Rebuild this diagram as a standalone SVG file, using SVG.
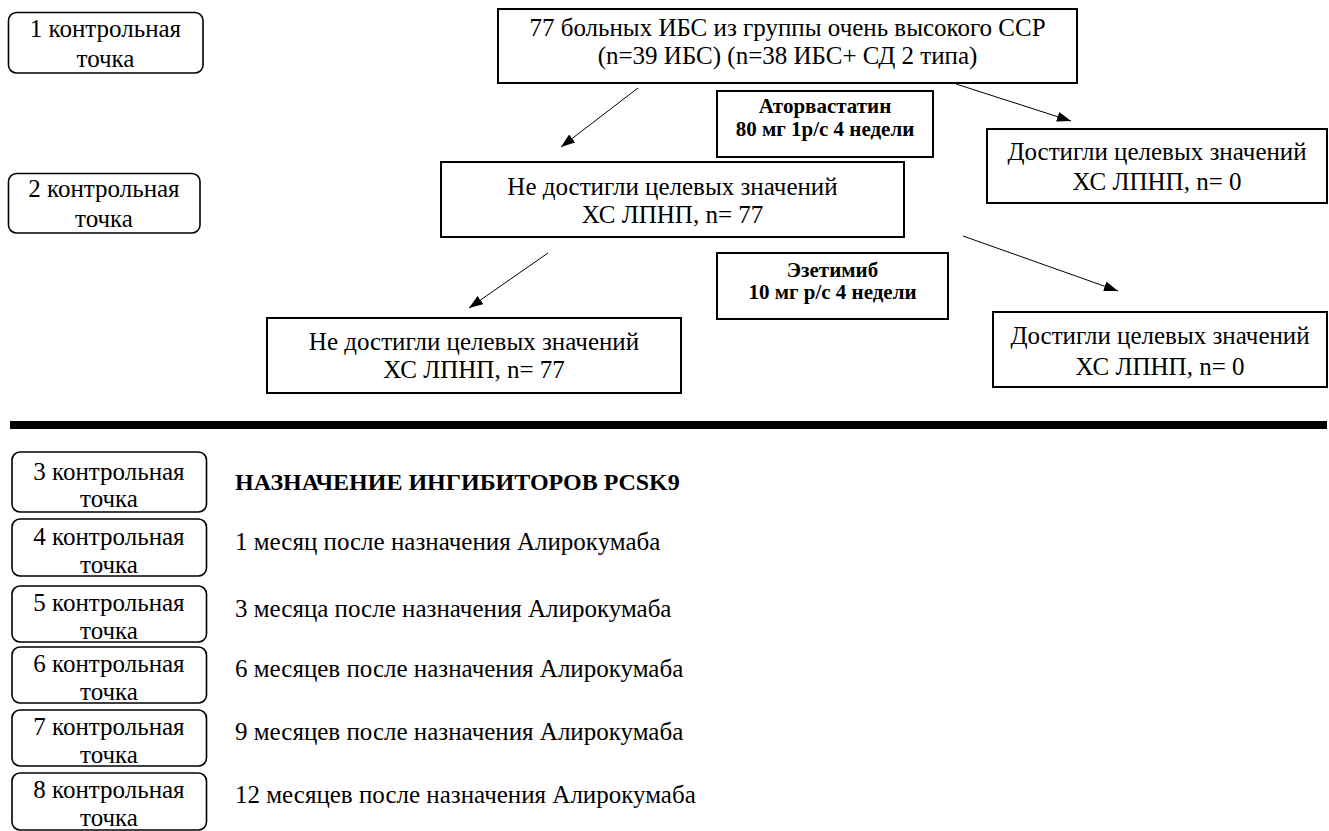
<svg xmlns="http://www.w3.org/2000/svg" width="1329" height="831" viewBox="0 0 1329 831">
<defs>
<style>
text{font-family:"Liberation Serif","Times New Roman",serif;fill:#000;}
.t{font-size:25px;text-anchor:middle;}
.tl{font-size:25px;}
.b{font-size:21px;font-weight:bold;text-anchor:middle;}
.bh{font-size:24px;font-weight:bold;}
.cp{fill:#fff;stroke:#000;stroke-width:1.6;}
.nd{fill:#fff;stroke:#000;stroke-width:2;}
.ar{stroke:#000;stroke-width:1;fill:none;marker-end:url(#ah);}
</style>
<marker id="ah" viewBox="0 0 14 10" refX="14" refY="5" markerWidth="14" markerHeight="10" markerUnits="userSpaceOnUse" orient="auto">
<path d="M0,0 L14,5 L0,10 Z" fill="#000"/>
</marker>
</defs>
<rect width="1329" height="831" fill="#fff"/>

<g id="cp1"><rect class="cp" x="8.5" y="12.5" width="194.5" height="60.5" rx="8"/><text class="t" x="105.5" y="37">1 контрольная</text><text class="t" x="105.5" y="67">точка</text></g>
<g id="cp2"><rect class="cp" x="8.5" y="173.5" width="191.5" height="59.5" rx="8"/><text class="t" x="104" y="197">2 контрольная</text><text class="t" x="104" y="227">точка</text></g>

<g id="n_start"><rect class="nd" x="498" y="9" width="579" height="74"/><text class="t" x="787.5" y="36">77 больных ИБС из группы очень высокого ССР</text><text class="t" x="787.5" y="64">(n=39 ИБС) (n=38 ИБС+ СД 2 типа)</text></g>
<g id="n_ator"><rect class="nd" x="717" y="91" width="216" height="66"/><text class="b" x="825" y="113">Аторвастатин</text><text class="b" x="825" y="136">80 мг 1р/с 4 недели</text></g>
<g id="n_no1"><rect class="nd" x="441" y="162" width="463" height="75"/><text class="t" x="672.5" y="195">Не достигли целевых значений</text><text class="t" x="672.5" y="223">ХС ЛПНП, n= 77</text></g>
<g id="n_yes1"><rect class="nd" x="987" y="129" width="340" height="74"/><text class="t" x="1157" y="160">Достигли целевых значений</text><text class="t" x="1157" y="190">ХС ЛПНП, n= 0</text></g>
<g id="n_ezet"><rect class="nd" x="717" y="253" width="231" height="66"/><text class="b" x="832.5" y="277">Эзетимиб</text><text class="b" x="832.5" y="299">10 мг р/с 4 недели</text></g>
<g id="n_no2"><rect class="nd" x="267" y="318" width="414" height="75"/><text class="t" x="474" y="350">Не достигли целевых значений</text><text class="t" x="474" y="378">ХС ЛПНП, n= 77</text></g>
<g id="n_yes2"><rect class="nd" x="993" y="312" width="334" height="75"/><text class="t" x="1160" y="344">Достигли целевых значений</text><text class="t" x="1160" y="375">ХС ЛПНП, n= 0</text></g>

<g id="connectors">
<line class="ar" x1="638" y1="88" x2="561" y2="147"/>
<line class="ar" x1="956" y1="84" x2="1071" y2="121"/>
<line class="ar" x1="548" y1="253" x2="469" y2="308"/>
<line class="ar" x1="963" y1="236" x2="1118" y2="291"/>
</g>

<rect id="rule" x="10" y="421" width="1317" height="8" fill="#000"/>

<g id="cp3"><rect class="cp" x="12" y="452" width="194.5" height="60" rx="8"/><text class="t" x="109" y="480">3 контрольная</text><text class="t" x="109" y="507">точка</text></g>
<g id="cp4"><rect class="cp" x="12" y="519" width="194.5" height="57" rx="8"/><text class="t" x="109" y="545">4 контрольная</text><text class="t" x="109" y="573">точка</text></g>
<g id="cp5"><rect class="cp" x="12" y="586" width="194.5" height="56" rx="8"/><text class="t" x="109" y="611">5 контрольная</text><text class="t" x="109" y="639">точка</text></g>
<g id="cp6"><rect class="cp" x="12" y="647" width="194.5" height="56" rx="8"/><text class="t" x="109" y="672">6 контрольная</text><text class="t" x="109" y="700">точка</text></g>
<g id="cp7"><rect class="cp" x="12" y="710" width="194.5" height="56" rx="8"/><text class="t" x="109" y="735">7 контрольная</text><text class="t" x="109" y="763">точка</text></g>
<g id="cp8"><rect class="cp" x="12" y="773" width="194.5" height="57" rx="8"/><text class="t" x="109" y="798">8 контрольная</text><text class="t" x="109" y="826">точка</text></g>

<g id="list">
<text class="bh" x="235" y="490">НАЗНАЧЕНИЕ ИНГИБИТОРОВ PCSK9</text>
<text class="tl" x="235" y="550">1 месяц после назначения Алирокумаба</text>
<text class="tl" x="235" y="617">3 месяца после назначения Алирокумаба</text>
<text class="tl" x="235" y="677">6 месяцев после назначения Алирокумаба</text>
<text class="tl" x="235" y="740">9 месяцев после назначения Алирокумаба</text>
<text class="tl" x="235" y="803">12 месяцев после назначения Алирокумаба</text>
</g>
</svg>
